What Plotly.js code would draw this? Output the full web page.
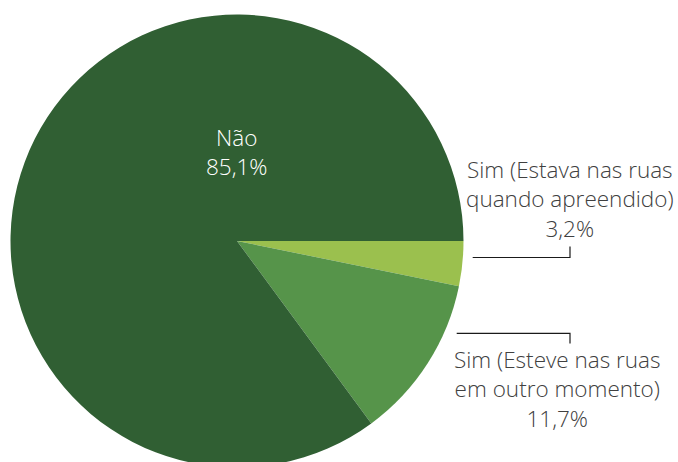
<!DOCTYPE html>
<html>
<head>
<meta charset="utf-8">
<script src="https://cdn.plot.ly/plotly-3.0.1.min.js"></script>
<style>
html, body { margin:0; padding:0; overflow:hidden; background:#fff; }
#chart { width:678px; height:483px; }
</style>
</head>
<body>
<div id="chart"></div>
<script>
const labels = ["Sim (Estava nas ruas<br>quando apreendido)", "Sim (Esteve nas ruas<br>em outro momento)", "Não"];
const values = [3.2, 11.7, 85.1];
const colors = ["#9bc04e", "#56944a", "#305f33"];

const W = 678, H = 483;
const px = x => x / W;
const py = y => 1 - y / H;
const fmt = v => v.toFixed(1).replace('.', ',') + '%';

const font = { family: "Open Sans, sans-serif", size: 22.5, color: "#404040", weight: 350 };

const trace = {
  type: 'pie',
  labels: labels,
  values: values,
  sort: false,
  direction: 'clockwise',
  rotation: 90,
  marker: { colors: colors, line: { width: 0 } },
  textinfo: 'none',
  hoverinfo: 'none',
  showlegend: false,
  domain: { x: [px(10.5), px(463.5)], y: [py(467.5), py(14.5)] }
};

const annotations = [
  { text: labels[2] + '<br>' + fmt(values[2]), x: px(237), y: py(152), font: Object.assign({}, font, { color: '#ffffff' }) },
  { text: labels[0] + '<br>' + fmt(values[0]), x: px(570), y: py(199), font: font },
  { text: labels[1] + '<br>' + fmt(values[1]), x: px(557), y: py(389), font: font }
].map(a => Object.assign({ xref: 'paper', yref: 'paper', showarrow: false, xanchor: 'center', yanchor: 'middle', align: 'center' }, a));

const line = { color: '#1a1a1a', width: 1.2 };
const shapes = [
  { type: 'path', path: `M ${px(472.7)} ${py(257.5)} L ${px(570)} ${py(257.5)} L ${px(570)} ${py(246.5)}`, line: line },
  { type: 'path', path: `M ${px(456.7)} ${py(333.3)} L ${px(570)} ${py(333.3)} L ${px(570)} ${py(343.5)}`, line: line }
].map(s => Object.assign({ xref: 'paper', yref: 'paper' }, s));

Plotly.newPlot('chart', [trace], {
  width: W, height: H,
  margin: { l: 0, r: 0, t: 0, b: 0 },
  paper_bgcolor: '#ffffff',
  annotations: annotations,
  shapes: shapes
}, { displayModeBar: false, staticPlot: true });
</script>
</body>
</html>
